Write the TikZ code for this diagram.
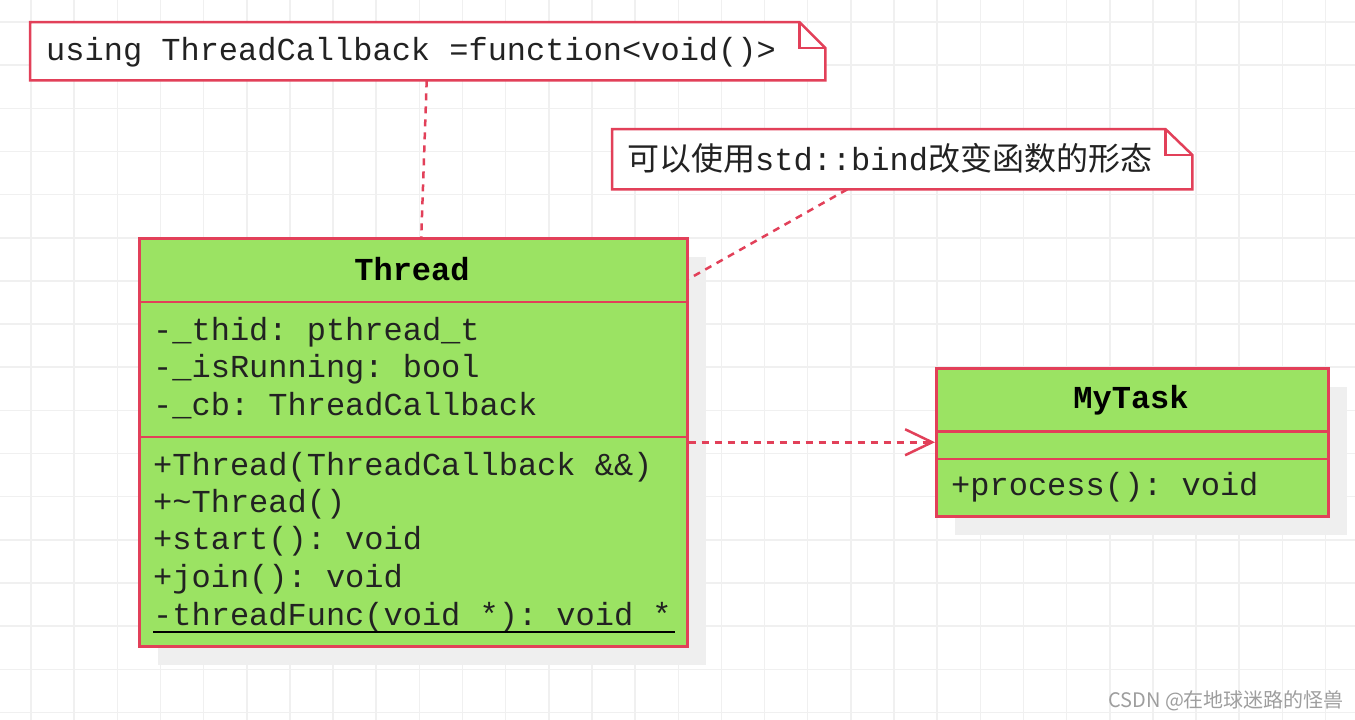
\documentclass[tikz,border=0pt]{standalone}
\usepackage{fontspec}
\setmainfont{Liberation Sans}
\newfontfamily\cjk{Noto Sans CJK SC}
\newfontfamily\umlmono{Liberation Mono}
\usetikzlibrary{arrows.meta}
\frenchspacing
\definecolor{umlred}{RGB}{226,64,89}
\definecolor{umlgreen}{RGB}{155,227,99}
\definecolor{gridgray}{RGB}{240,240,240}
\definecolor{shadowgray}{RGB}{239,239,239}
\definecolor{wmgray}{RGB}{158,158,158}
\definecolor{txtgray}{RGB}{34,34,34}
\begin{document}
\begin{tikzpicture}[x=1pt,y=-1pt,
  box/.style={draw=umlred, line width=2.5pt, fill=umlgreen, inner sep=0pt, anchor=north west},
  notebox/.style={draw=umlred, line width=2.5pt, fill=white, line join=miter},
  foldline/.style={draw=umlred, line width=2.5pt},
  anchorbox/.style={inner sep=0pt, anchor=north west},
  shadowbox/.style={fill=shadowgray},
  sep/.style={draw=umlred, line width=2.5pt},
  gridline/.style={draw=gridgray, line width=1.5pt},
  txt/.style={inner sep=0pt, anchor=base west, text=txtgray, font=\umlmono\frenchspacing\fontsize{32}{37.5}\selectfont},
  titletxt/.style={inner sep=0pt, anchor=base, text=black, font=\umlmono\bfseries\fontsize{32}{37.5}\selectfont},
  link/.style={draw=umlred, line width=2.5pt, dash pattern=on 7pt off 6pt},
]
\useasboundingbox (0,0) rectangle (1355,720);
\fill[white] (0,0) rectangle (1355,720);
% grid
\foreach \k in {0,...,30} \draw[gridline] ({31+43.15*\k},0) -- ({31+43.15*\k},720);
\foreach \k in {0,...,16} \draw[gridline] (0,{22+43.15*\k}) -- (1355,{22+43.15*\k});

% shadows
\fill[shadowbox] (158,257) rectangle (706,665);
\fill[shadowbox] (955,387) rectangle (1347,535);

% Thread class
\node[box, minimum width=548pt, minimum height=408pt] (thread) at (138,237) {};
\draw[sep] (138,302) -- (686,302);
\draw[sep] (138,437) -- (686,437);
\node[titletxt] (ttitle) at (412,280) {Thread};
\node[txt] (ta1) at (153,340) {-\_thid: pthread\_t};
\node[txt] (ta2) at (153,377.5) {-\_isRunning: bool};
\node[txt] (ta3) at (153,415) {-\_cb: ThreadCallback};
\node[txt] (tm1) at (153,475) {+Thread(ThreadCallback \&\&)};
\node[txt] (tm2) at (153,512) {+\textasciitilde Thread()};
\node[txt] (tm3) at (153,549.5) {+start(): void};
\node[txt] (tm4) at (153,587) {+join(): void};
\node[txt] (tm5) at (153,625) {-threadFunc(void *): void *};
\draw[line width=2pt, black] ([yshift=-7pt]tm5.base west) -- ([xshift=3pt,yshift=-7pt]tm5.base east);

% MyTask class
\node[box, minimum width=392pt, minimum height=148pt] (mytask) at (935,367) {};
\draw[sep] (935,431.5) -- (1327,431.5);
\draw[sep] (935,459) -- (1327,459);
\node[titletxt] (mtitle) at (1131,408) {MyTask};
\node[txt] (mm1) at (951,495) {+process(): void};

% note 1
\node[anchorbox, minimum width=795pt, minimum height=58pt] (note1) at (30,22) {};
\draw[notebox] (note1.north west) -- ([xshift=-26pt]note1.north east) -- ([yshift=-26pt]note1.north east) -- (note1.south east) -- (note1.south west) -- cycle;
\draw[foldline] ([xshift=-26pt]note1.north east) -- ([xshift=-26pt,yshift=-26pt]note1.north east) -- ([yshift=-26pt]note1.north east);
\node[txt] (n1t) at (46,60) {using ThreadCallback =function<void()>};

% note 2
\node[anchorbox, minimum width=580pt, minimum height=60pt] (note2) at (612,129) {};
\draw[notebox] (note2.north west) -- ([xshift=-27pt]note2.north east) -- ([yshift=-26pt]note2.north east) -- (note2.south east) -- (note2.south west) -- cycle;
\draw[foldline] ([xshift=-27pt]note2.north east) -- ([xshift=-27pt,yshift=-26pt]note2.north east) -- ([yshift=-26pt]note2.north east);
\node[txt] (n2t) at (627,170) {{\cjk\fontsize{32}{37.5}\selectfont 可以使用}std::bind{\cjk\fontsize{32}{37.5}\selectfont 改变函数的形态}};

% connectors
\draw[link] ([xshift=-1pt]note1.south) -- ([xshift=8pt]thread.north);
\draw[link] ([xshift=-55pt]note2.south) -- ([yshift=-42pt]thread.north east);
\draw[link, -{Straight Barb[length=27pt,width=26pt]}] (thread.east) -- (mytask.west);

% watermark
\node[inner sep=0pt, anchor=base west, text=wmgray, font=\cjk\fontsize{20}{24}\selectfont] (wm) at (1108,707) {CSDN @在地球迷路的怪兽};
\end{tikzpicture}
\end{document}
